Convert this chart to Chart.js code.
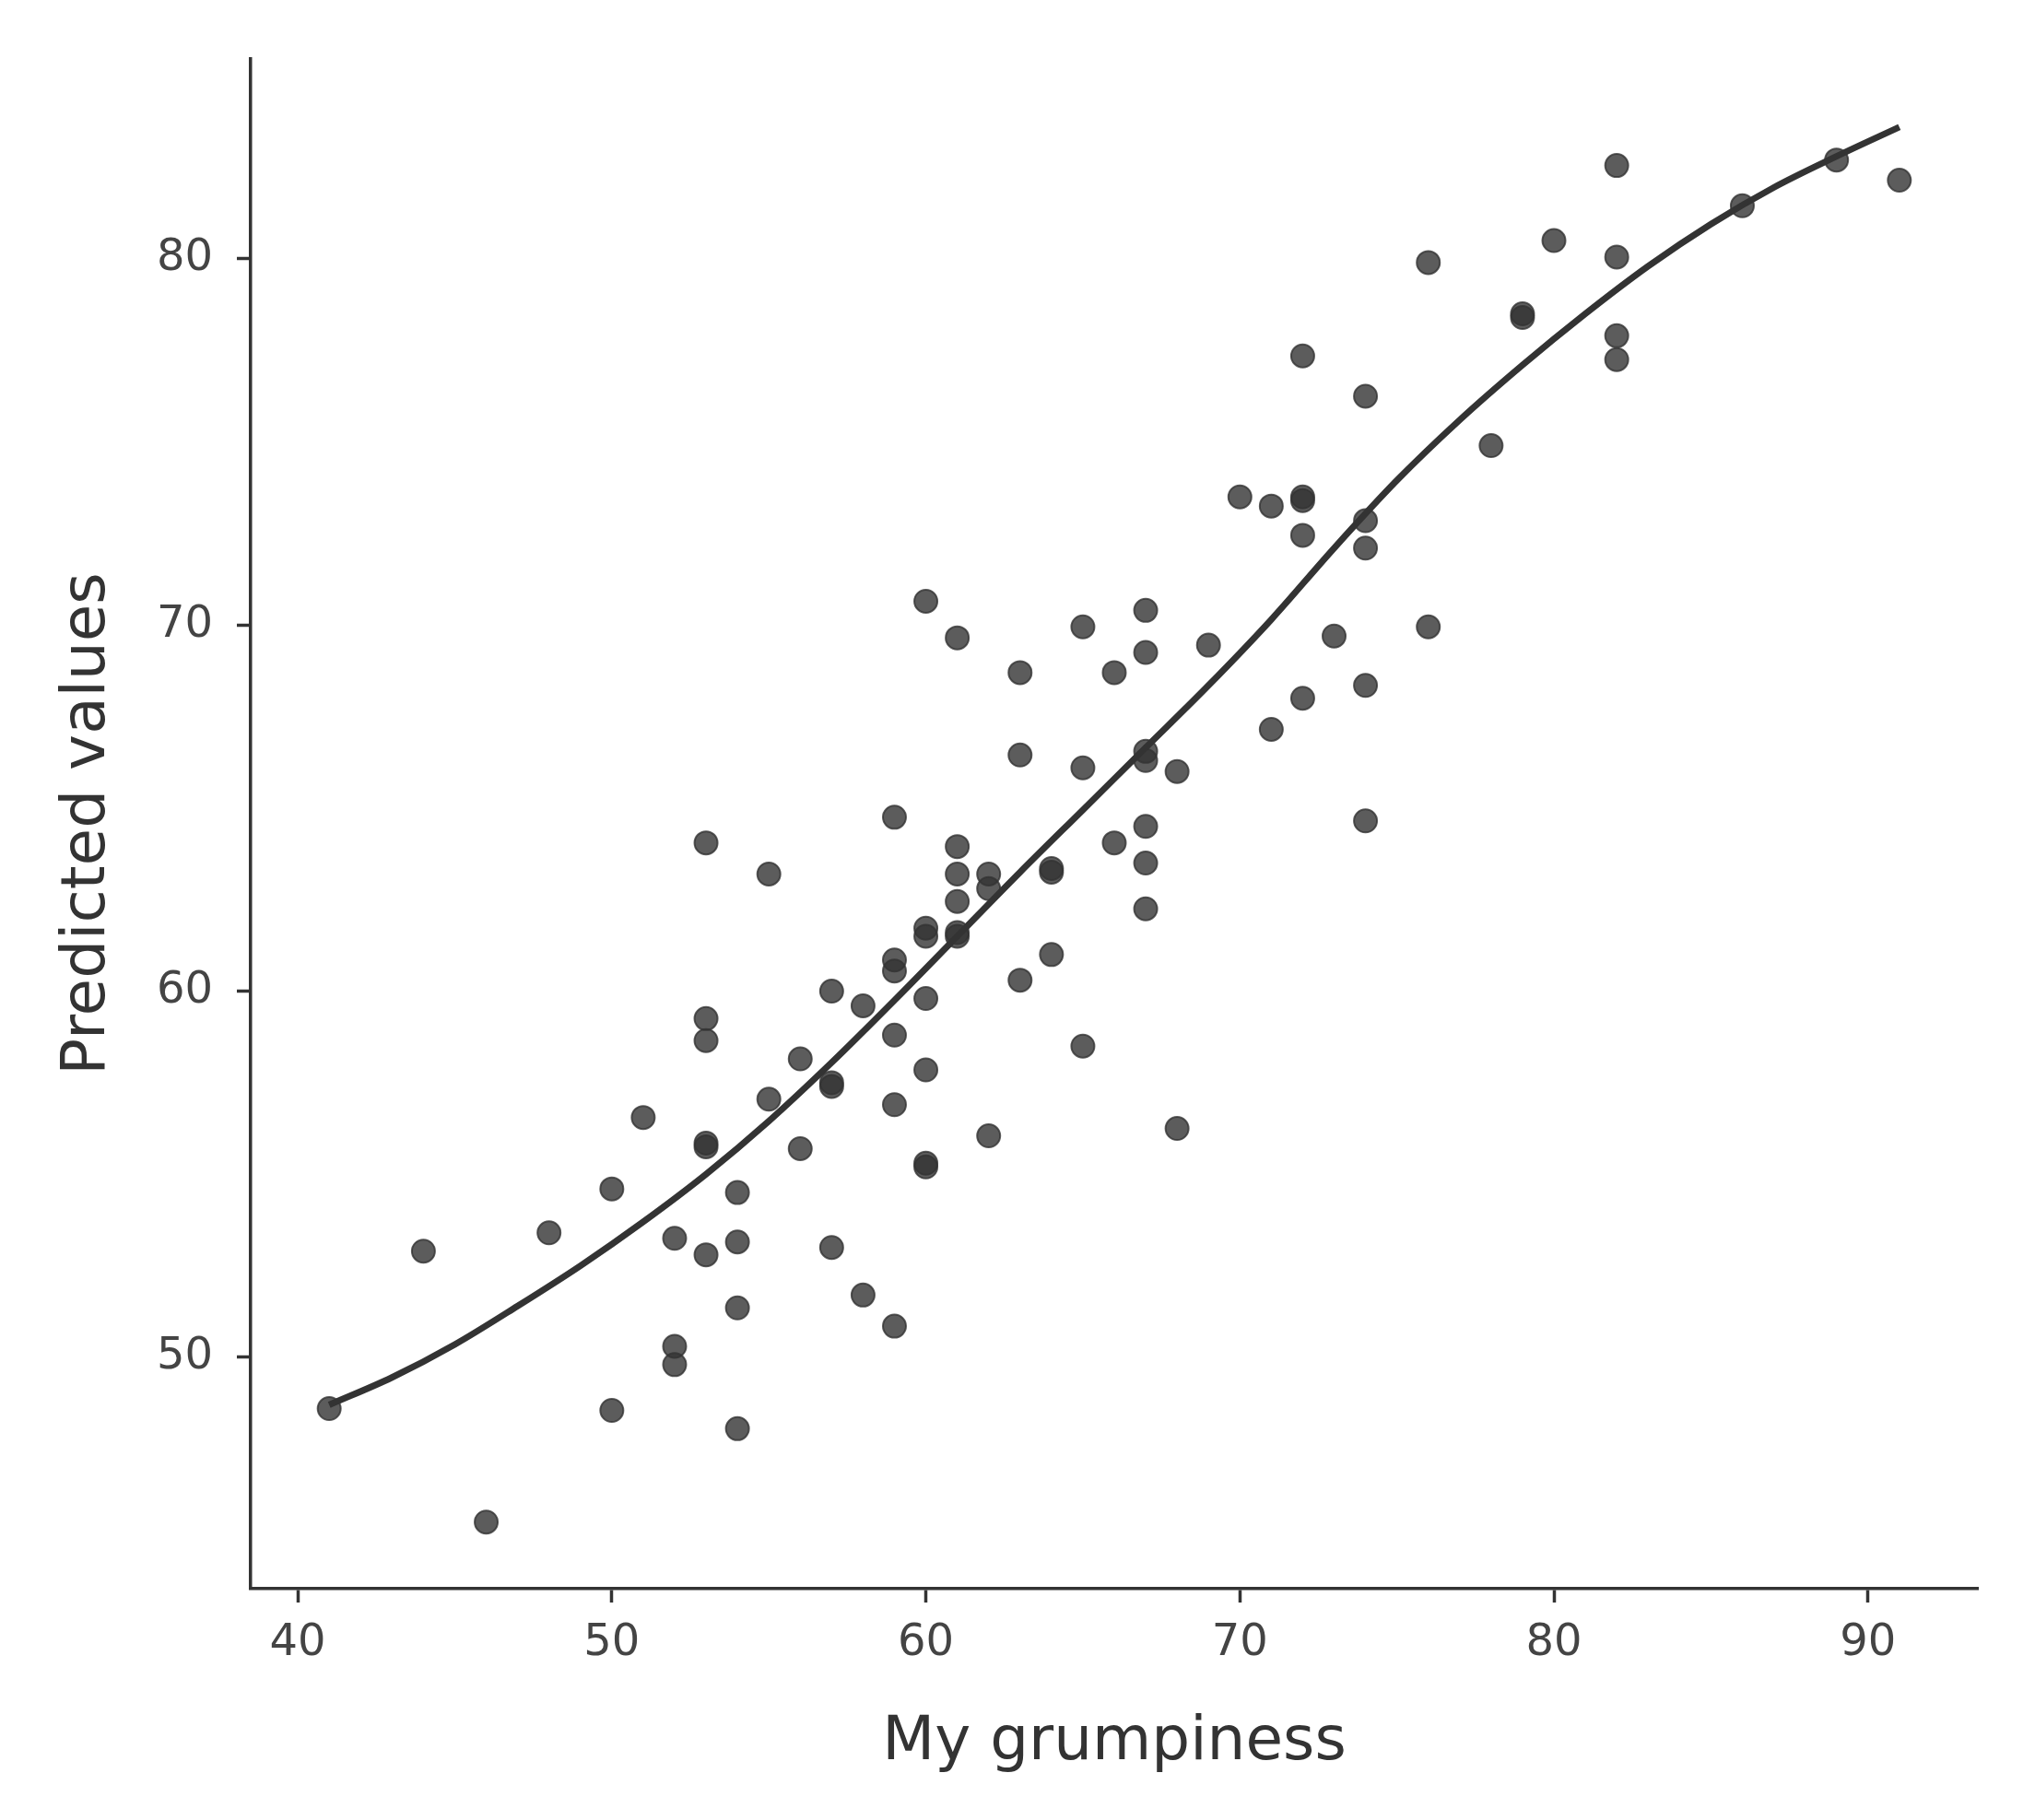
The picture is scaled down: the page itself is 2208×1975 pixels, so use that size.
<!DOCTYPE html>
<html lang="en">
<head>
<meta charset="utf-8">
<style>
  html, body { margin: 0; padding: 0; background: #ffffff; }
  #chart { display: block; }
</style>
</head>
<body>
<canvas id="chart" width="2208" height="1975" style="width:2208px;height:1975px"></canvas>

<script src="https://cdn.jsdelivr.net/npm/chart.js"></script>
<script>
    // observed grumpiness (x) and predicted values (y), one entry per point
    const grumpiness = [
        41, 44, 46, 48,
        50, 50, 51, 52, 52, 52,
        53, 53, 53, 53, 53, 53,
        54, 54, 54, 54, 55, 55, 56, 56,
        57, 57, 57, 57, 58, 58,
        59, 59, 59, 59, 59, 59,
        60, 60, 60, 60, 60, 60, 60,
        61, 61, 61, 61, 61, 61,
        62, 62, 62, 63, 63, 63, 64, 64, 64,
        65, 65, 65, 66, 66,
        67, 67, 67, 67, 67, 67, 67,
        68, 68, 69, 70, 71, 71,
        72, 72, 72, 72, 72, 73,
        74, 74, 74, 74, 74,
        76, 76, 78, 79, 79, 80,
        82, 82, 82, 82, 86, 89, 91
    ];
    const predicted = [
        48.6, 52.9, 45.5, 53.4,
        54.6, 48.55, 56.55, 53.25, 50.3, 49.8,
        64.05, 59.25, 58.65, 55.85, 55.75, 52.8,
        54.5, 53.15, 51.35, 48.05, 63.2, 57.05, 58.15, 55.7,
        60.0, 57.5, 57.4, 53.0, 59.6, 51.7,
        64.75, 60.85, 60.55, 58.8, 56.9, 50.85,
        70.65, 61.72, 61.5, 59.8, 57.85, 55.3, 55.2,
        69.65, 63.95, 63.2, 62.45, 61.6, 61.5,
        63.2, 62.8, 56.05, 68.7, 66.45, 60.3, 63.35, 63.25, 61.0,
        69.95, 66.1, 58.5, 68.7, 64.05,
        70.4, 69.25, 66.55, 66.3, 64.5, 63.5, 62.25,
        66.0, 56.25, 69.45, 73.5, 73.25, 67.15,
        77.35, 73.5, 73.4, 72.45, 68.0, 69.7,
        76.25, 72.85, 72.1, 68.35, 64.65,
        79.9, 69.95, 74.9, 78.5, 78.4, 80.5,
        82.55, 80.05, 77.9, 77.25, 81.45, 82.7, 82.15
    ];

    // smooth curve
    const smoothX = [41, 43, 45, 47, 49, 51, 53, 55, 57, 59, 61, 63, 65, 67, 69, 71, 73, 75, 77, 79, 81, 83, 85, 87, 89, 91];
    const smoothY = [48.7, 49.45, 50.35, 51.4, 52.5, 53.7, 55.0, 56.45, 58.05, 59.75, 61.5, 63.25, 64.95, 66.65, 68.35, 70.15, 72.1, 73.95, 75.6, 77.1, 78.5, 79.8, 80.95, 81.95, 82.8, 83.6];

    const xTicks = [40, 50, 60, 70, 80, 90];
    const yTicks = [50, 60, 70, 80];

    const ink = '#333333';

    var points = grumpiness.map(function (g, i) {
        return {x: g, y: predicted[i]};
    });
    var curve = smoothX.map(function (g, i) {
        return {x: g, y: smoothY[i]};
    });

    var config = {
        type: 'scatter',
        data: {
            datasets: [
                {
                    type: 'line',
                    data: curve,
                    order: 0,
                    borderColor: ink,
                    borderWidth: 7,
                    pointRadius: 0,
                    fill: false,
                    cubicInterpolationMode: 'monotone'
                },
                {
                    data: points,
                    order: 1,
                    backgroundColor: 'rgba(51,51,51,0.8)',
                    borderColor: 'rgba(51,51,51,0.8)',
                    borderWidth: 2,
                    pointRadius: 12.5,
                    pointHoverRadius: 12.5
                }
            ]
        },
        options: {
            responsive: false,
            devicePixelRatio: 1,
            animation: false,
            events: [],
            layout: {
                padding: {top: 64, right: 62, bottom: 0, left: 0}
            },
            plugins: {
                legend: {display: false},
                tooltip: {enabled: false}
            },
            scales: {
                x: {
                    type: 'linear',
                    min: 38.5,
                    max: 93.5,
                    afterFit: function (scale) { scale.height = 251; },
                    afterBuildTicks: function (scale) {
                        scale.ticks = xTicks.map(function (v) { return {value: v}; });
                    },
                    border: {display: true, color: ink, width: 3.5},
                    grid: {
                        drawOnChartArea: false,
                        drawTicks: true,
                        tickLength: 15,
                        tickColor: ink,
                        tickWidth: 3.5
                    },
                    ticks: {
                        color: '#444444',
                        padding: 16,
                        maxRotation: 0,
                        font: {family: 'DejaVu Sans', size: 48}
                    },
                    title: {
                        display: true,
                        text: 'My grumpiness',
                        color: ink,
                        padding: {top: 0, bottom: 44},
                        font: {family: 'DejaVu Sans', size: 66}
                    }
                },
                y: {
                    type: 'linear',
                    min: 43.68,
                    max: 85.46,
                    afterFit: function (scale) { scale.width = 272; },
                    afterBuildTicks: function (scale) {
                        scale.ticks = yTicks.map(function (v) { return {value: v}; });
                    },
                    border: {display: true, color: ink, width: 3.5},
                    grid: {
                        drawOnChartArea: false,
                        drawTicks: true,
                        tickLength: 15,
                        tickColor: ink,
                        tickWidth: 3.5
                    },
                    ticks: {
                        color: '#444444',
                        padding: 26,
                        font: {family: 'DejaVu Sans', size: 48}
                    },
                    title: {
                        display: true,
                        text: 'Predicted values',
                        color: ink,
                        padding: {top: 56, bottom: 0},
                        font: {family: 'DejaVu Sans', size: 66}
                    }
                }
            }
        }
    };

    var myChart = new Chart(document.getElementById('chart'), config);
</script>
</body>
</html>
